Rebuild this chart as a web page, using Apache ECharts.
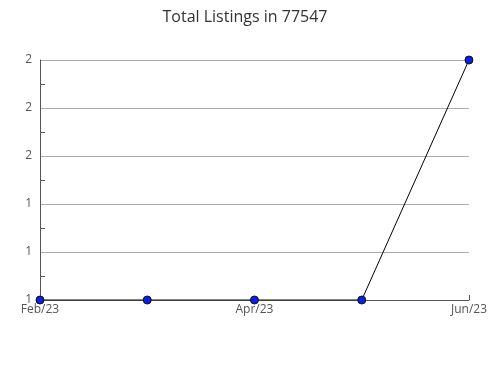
<!DOCTYPE html>
<html><head><meta charset="utf-8">
<script src="https://cdn.jsdelivr.net/npm/echarts@6/dist/echarts.min.js"></script>
<style>html,body{margin:0;padding:0;background:#fff}#c{width:490px;height:380px}</style>
</head><body><div id="c"></div>
<script>
const categories = ['Feb/23', 'Mar/23', 'Apr/23', 'May/23', 'Jun/23'];
const listings = [1, 1, 1, 1, 2];
const titleText = 'Total Listings in 77547';

const chart = echarts.init(document.getElementById('c'), null, {renderer: 'canvas'});
chart.setOption({
  animation: false,
  backgroundColor: '#fff',
  textStyle: {fontFamily: 'Open Sans'},
  title: {
    text: titleText, left: 'center', top: 4,
    textStyle: {fontFamily: 'Open Sans', fontSize: 16, fontWeight: 'normal', color: '#333'}
  },
  grid: {left: 40, right: 20, top: 60, bottom: 80, containLabel: false},
  xAxis: {
    type: 'category', data: categories, boundaryGap: false,
    axisLine: {lineStyle: {color: '#555', width: 1}},
    axisTick: {show: true, inside: true, length: 5, interval: (i) => i === 4, lineStyle: {color: '#555'}},
    axisLabel: {interval: 1, color: '#555', fontSize: 12, margin: 4, fontFamily: 'Open Sans'},
    splitLine: {show: false}
  },
  yAxis: {
    type: 'value', min: 1, max: 2, interval: 0.2,
    axisLine: {show: true, lineStyle: {color: '#555', width: 1}},
    axisTick: {show: false},
    minorTick: {show: true, splitNumber: 2, length: -5, lineStyle: {color: '#555'}},
    axisLabel: {color: '#555', fontSize: 12, margin: 8, fontFamily: 'Open Sans',
      formatter: (v) => String(Math.round(v))},
    splitLine: {show: true, lineStyle: {color: '#aaa', width: 1}}
  },
  series: [{
    type: 'line', data: listings,
    symbol: 'circle', symbolSize: 8,
    lineStyle: {color: '#000', width: 1},
    itemStyle: {color: '#0a1ee6', borderColor: '#111', borderWidth: 1}
  }]
});
</script></body></html>
